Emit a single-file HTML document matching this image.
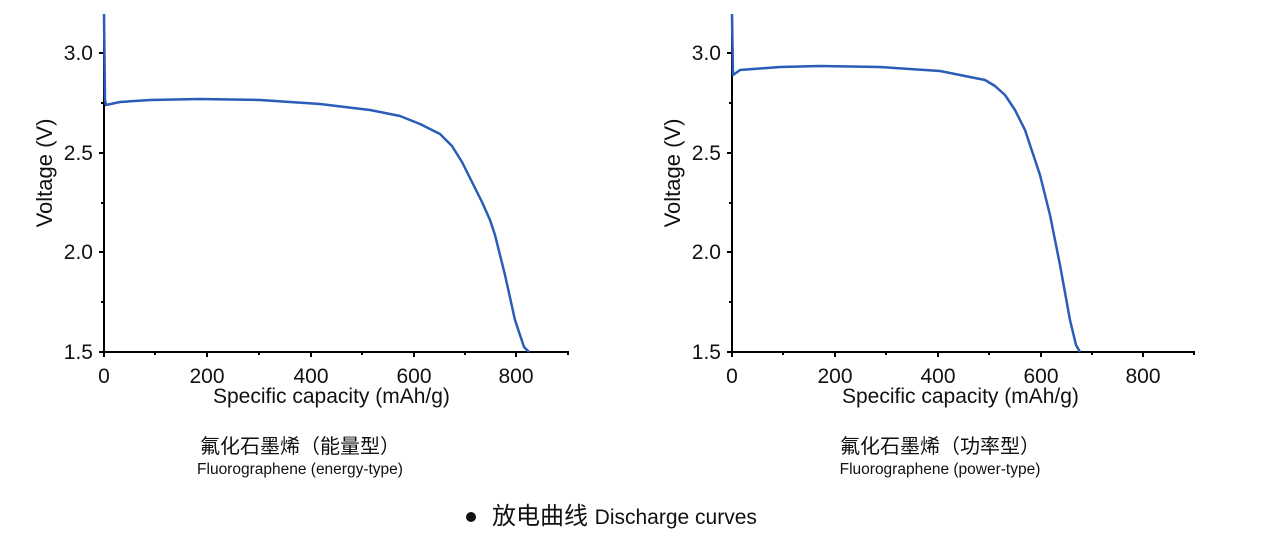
<!DOCTYPE html>
<html><head><meta charset="utf-8"><style>
body{margin:0;background:#fff;}
svg text{font-family:"Liberation Sans","Noto Sans CJK SC",sans-serif;fill:#111;}
</style></head><body>
<svg width="1261" height="533" viewBox="0 0 1261 533" xmlns="http://www.w3.org/2000/svg">
<g id="L">
<g stroke="#000" stroke-width="2" fill="none">
<line x1="104" y1="14" x2="104" y2="353"/>
<line x1="103" y1="352" x2="569" y2="352"/>
<path d="M104 53h-5M104 153h-5M104 252h-5M104 352h-5M104 103h-3M104 203h-3M104 302h-3"/>
<path d="M104 352v5M207 352v5M311 352v5M414 352v5M516 352v5M155 352v3M259 352v3M362 352v3M465 352v3M568 352v3"/>
</g>
<g font-size="21" text-anchor="end"><text x="93" y="60">3.0</text><text x="93" y="160">2.5</text><text x="93" y="259">2.0</text><text x="93" y="359">1.5</text></g>
<g font-size="21" text-anchor="middle"><text x="104" y="383">0</text><text x="207" y="383">200</text><text x="311" y="383">400</text><text x="414" y="383">600</text><text x="516" y="383">800</text></g>
<text x="213" y="403" font-size="21">Specific capacity (mAh/g)</text>
<text transform="translate(52,173) rotate(-90)" font-size="22" text-anchor="middle">Voltage (V)</text>
<polyline fill="none" stroke="#2a5cb8" stroke-width="2.5" stroke-linejoin="round" points="104,14 105,100 106,105 120,102 150,100 200,99 260,100 320,104 370,110 400,116 420,124 440,134 452,146 462,162 472,182 482,202 490,220 495,235 505,275 515,320 524,347 529,352"/>
</g>
<g transform="translate(628,0)">
<g stroke="#000" stroke-width="2" fill="none">
<line x1="104" y1="14" x2="104" y2="353"/>
<line x1="103" y1="352" x2="567" y2="352"/>
<path d="M104 53h-5M104 153h-5M104 252h-5M104 352h-5M104 103h-3M104 203h-3M104 302h-3"/>
<path d="M104 352v5M207 352v5M310 352v5M413 352v5M515 352v5M155 352v3M258 352v3M361 352v3M464 352v3M566 352v3"/>
</g>
<g font-size="21" text-anchor="end"><text x="93" y="60">3.0</text><text x="93" y="160">2.5</text><text x="93" y="259">2.0</text><text x="93" y="359">1.5</text></g>
<g font-size="21" text-anchor="middle"><text x="104" y="383">0</text><text x="207" y="383">200</text><text x="310" y="383">400</text><text x="413" y="383">600</text><text x="515" y="383">800</text></g>
<text x="214" y="403" font-size="21">Specific capacity (mAh/g)</text>
<text transform="translate(52,173) rotate(-90)" font-size="22" text-anchor="middle">Voltage (V)</text>
</g>
<polyline fill="none" stroke="#2a5cb8" stroke-width="2.5" stroke-linejoin="round" points="732,14 733,75 740,70 780,67 820,66 880,67 940,71 985,80 995,86 1005,95 1015,110 1025,130 1040,175 1050,215 1060,265 1070,320 1076,345 1080,352"/>
<g text-anchor="middle">
<text x="300" y="453" font-size="20">氟化石墨烯（能量型）</text>
<text x="300" y="474" font-size="15.5">Fluorographene (energy-type)</text>
<text x="940" y="453" font-size="20">氟化石墨烯（功率型）</text>
<text x="940" y="474" font-size="15.5">Fluorographene (power-type)</text>
</g>
<circle cx="471" cy="517" r="5" fill="#111"/>
<text x="492" y="524" font-size="24">放电曲线 <tspan font-size="21">Discharge curves</tspan></text>
</svg>
</body></html>
